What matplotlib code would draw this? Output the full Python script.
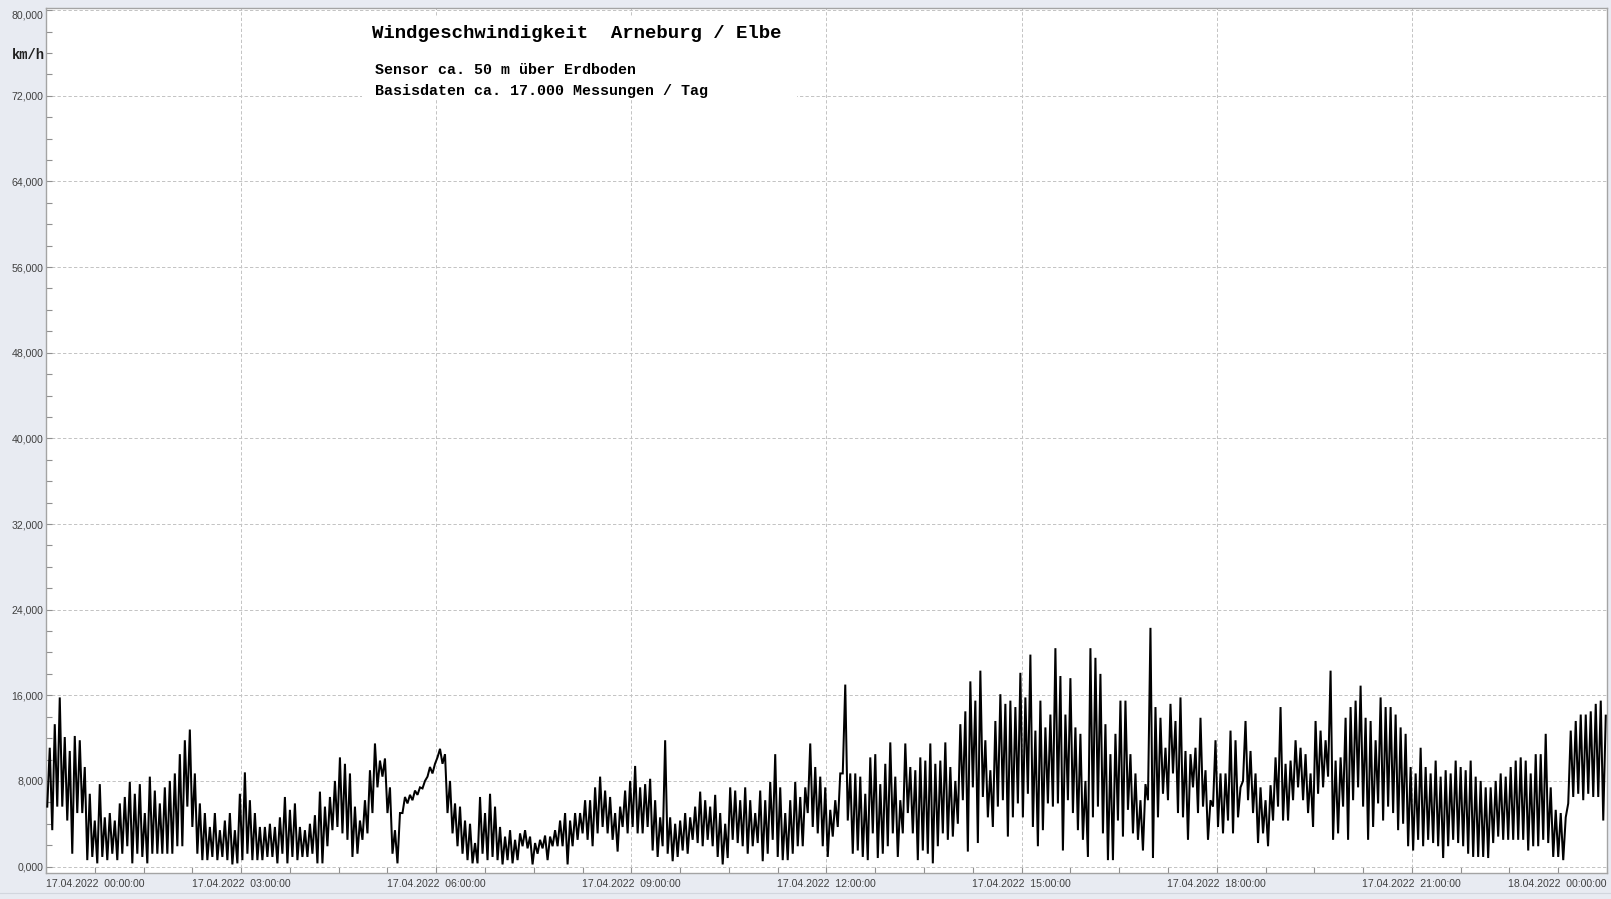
"""Windgeschwindigkeit Arneburg / Elbe, 17.04.2022 (Nachbau als Matplotlib-Grafik)."""

import matplotlib

matplotlib.use("Agg")

import matplotlib.pyplot as plt  # noqa: E402
import numpy as np  # noqa: E402
from matplotlib.lines import Line2D  # noqa: E402
from matplotlib.patches import Rectangle  # noqa: E402
from matplotlib.ticker import MultipleLocator  # noqa: E402

BG = "#e8ebf2"
GRID = "#c4c4c4"
SPINE = "#a4a4a4"
LABEL = "#404040"
MONO = "Liberation Mono"
SANS = "Liberation Sans"

# Hüllkurve (Minimum / Maximum) je ca. 4,6-Minuten-Fenster, km/h
hi_00_03 = [11.1, 13.3, 15.8, 12.1, 10.8, 12.2, 11.8, 9.3, 6.8, 4.3,
            7.7, 4.6, 5.0, 4.3, 5.9, 6.5, 7.9, 6.8, 7.7, 5.0,
            8.4, 7.1, 5.9, 7.4, 8.0, 8.7, 10.5, 11.8, 12.8, 8.7,
            5.9, 5.0, 3.7, 5.0, 3.4, 4.3, 5.0, 3.4, 6.8, 8.8]
lo_00_03 = [5.6, 3.4, 5.6, 5.6, 4.3, 1.2, 5.0, 5.0, 0.6, 0.9,
            0.3, 0.9, 0.6, 1.2, 0.6, 1.2, 1.9, 0.3, 1.2, 0.9,
            0.3, 1.2, 1.2, 1.2, 1.2, 1.2, 1.9, 1.9, 5.6, 3.7,
            1.2, 0.6, 0.6, 0.9, 0.6, 0.9, 0.6, 0.2, 0.3, 0.6]

hi_03_06 = [6.2, 5.0, 3.7, 3.7, 4.0, 3.7, 4.6, 6.5, 5.3, 5.9,
            3.7, 3.4, 4.0, 4.8, 7.0, 5.6, 6.5, 8.0, 10.2, 9.6,
            8.7, 5.6, 4.3, 6.2, 9.0, 11.5, 9.9, 10.1, 7.4, 3.4,
            5.0, 6.5, 6.7, 7.1, 7.4, 8.0, 9.3, 9.6, 11.0]
lo_03_06 = [1.2, 0.6, 0.6, 0.6, 0.9, 0.9, 0.3, 1.2, 0.3, 0.9,
            0.6, 0.9, 0.9, 1.2, 0.3, 0.3, 1.9, 3.4, 3.7, 3.1,
            2.5, 0.9, 1.2, 2.5, 3.1, 5.0, 7.4, 8.4, 5.0, 1.2,
            0.3, 5.0, 5.9, 6.2, 6.7, 7.3, 8.4, 8.7, 10.2]

hi_06_12 = [10.5, 8.0, 5.9, 5.6, 4.3, 4.0, 2.2, 6.5, 5.0, 6.8,
            5.6, 3.7, 2.8, 3.4, 2.5, 3.1, 3.4, 2.8, 2.2, 2.5,
            2.9, 2.8, 3.4, 4.3, 5.0, 4.3, 5.0, 5.0, 6.2, 6.2,
            7.4, 8.4, 7.1, 6.5, 5.0, 5.6, 7.1, 8.0, 9.4, 7.4,
            7.7, 8.2, 6.2, 4.6, 11.8, 4.6, 4.0, 4.3, 5.0, 4.6,
            5.6, 7.0, 6.2, 5.6, 6.7, 5.0, 4.0, 7.4, 7.1, 6.2,
            7.4, 6.2, 5.0, 7.1, 6.2, 7.9, 10.5, 7.4, 5.0, 6.2,
            7.9, 6.5, 7.4, 11.5, 9.3, 8.4, 7.4, 5.3]
lo_06_12 = [9.6, 5.0, 3.1, 1.9, 1.2, 0.6, 0.3, 0.3, 1.2, 0.6,
            0.9, 0.6, 0.2, 0.6, 0.3, 0.6, 1.9, 1.7, 0.2, 1.2,
            1.7, 0.6, 1.9, 1.9, 1.9, 0.2, 1.9, 2.5, 3.1, 2.5,
            1.9, 3.1, 3.7, 3.1, 2.5, 1.4, 3.7, 3.1, 3.7, 3.1,
            3.1, 3.7, 1.5, 0.9, 1.9, 1.2, 0.5, 0.9, 1.5, 1.2,
            2.5, 2.2, 1.9, 2.5, 1.9, 0.9, 0.2, 0.8, 2.5, 2.2,
            1.9, 1.2, 1.9, 2.2, 0.5, 1.2, 2.5, 0.9, 0.6, 0.6,
            1.2, 1.9, 1.9, 5.0, 3.7, 3.1, 1.9, 0.9]

hi_12_18 = [6.2, 8.7, 17.0, 8.7, 8.7, 8.4, 6.8, 10.2, 10.5, 7.7,
            9.6, 11.6, 8.4, 6.2, 11.5, 9.3, 9.0, 10.2, 9.9, 11.5,
            9.6, 9.9, 11.6, 9.3, 8.0, 13.3, 14.5, 17.3, 15.5, 18.3,
            11.8, 9.0, 13.6, 16.1, 15.2, 15.5, 14.9, 18.1, 15.8, 19.8,
            12.7, 15.5, 13.0, 14.2, 20.4, 17.8, 14.2, 17.6, 13.0, 12.4,
            8.0, 20.4, 19.5, 18.0, 13.3, 10.5, 12.4, 15.5, 15.5, 10.5,
            8.7, 6.2, 7.7, 22.3, 14.9, 13.9, 11.1, 15.2, 13.6, 15.8,
            10.8, 10.5, 11.1, 13.9, 9.0, 6.2, 11.8, 8.7]
lo_12_18 = [2.8, 3.7, 8.7, 4.3, 1.2, 1.5, 0.9, 0.6, 3.1, 0.8,
            1.2, 1.9, 3.1, 0.9, 3.1, 5.0, 3.1, 0.6, 1.5, 1.2,
            0.3, 1.9, 3.1, 2.5, 2.8, 4.0, 6.2, 1.4, 7.4, 2.2,
            6.5, 4.6, 3.7, 5.6, 6.2, 2.8, 4.6, 5.9, 4.6, 6.8,
            3.7, 1.9, 3.4, 5.9, 5.6, 5.9, 1.5, 6.2, 5.0, 3.4,
            2.5, 0.9, 4.6, 5.6, 3.1, 0.6, 0.6, 4.3, 2.8, 5.3,
            3.1, 2.5, 1.5, 6.2, 0.8, 4.6, 6.8, 6.2, 8.7, 5.0,
            4.6, 2.5, 7.4, 5.0, 5.6, 2.5, 5.6, 3.7]

hi_18_24 = [8.7, 12.7, 11.8, 7.4, 13.6, 10.8, 8.7, 7.4, 6.2, 7.6,
            10.2, 14.9, 9.6, 9.9, 11.8, 11.1, 10.5, 8.7, 13.6, 12.7,
            11.8, 18.3, 9.9, 10.2, 13.9, 14.9, 15.5, 16.9, 13.9, 13.6,
            11.8, 15.8, 14.9, 14.9, 14.2, 13.0, 12.4, 9.3, 8.7, 11.1,
            9.3, 8.7, 9.9, 8.4, 9.0, 8.7, 9.9, 9.3, 9.0, 9.9,
            8.4, 8.0, 7.4, 7.4, 8.0, 8.7, 8.4, 9.3, 9.9, 10.2,
            9.9, 8.7, 10.5, 10.5, 12.4, 7.4, 5.3, 5.0, 4.6, 12.7,
            13.6, 14.2, 14.2, 14.5, 15.2, 15.5, 14.1]
lo_18_24 = [3.1, 4.3, 3.1, 4.6, 8.0, 6.2, 5.0, 2.2, 3.1, 1.9,
            4.3, 5.6, 4.3, 4.3, 6.2, 7.4, 6.2, 5.0, 3.7, 6.8,
            7.4, 8.4, 2.5, 3.1, 5.6, 2.5, 6.2, 7.4, 5.6, 2.5,
            3.7, 5.9, 4.3, 5.6, 5.0, 3.4, 4.0, 1.9, 1.5, 2.5,
            1.9, 2.5, 2.2, 1.9, 0.8, 1.9, 2.5, 2.2, 1.9, 1.2,
            0.9, 0.9, 0.9, 0.8, 2.2, 2.8, 2.5, 2.5, 2.5, 2.5,
            2.5, 1.5, 1.9, 1.9, 2.5, 2.2, 0.9, 0.9, 0.6, 5.9,
            6.5, 6.8, 6.2, 6.8, 6.5, 6.5, 4.3]

x_ticks = [0, 3, 6, 9, 12, 15, 18, 21, 24]
x_labels = ["17.04.2022  00:00:00", "17.04.2022  03:00:00", "17.04.2022  06:00:00",
            "17.04.2022  09:00:00", "17.04.2022  12:00:00", "17.04.2022  15:00:00",
            "17.04.2022  18:00:00", "17.04.2022  21:00:00", "18.04.2022  00:00:00"]
y_ticks = list(range(0, 81, 8))

title = "Windgeschwindigkeit  Arneburg / Elbe"
sub1 = "Sensor ca. 50 m über Erdboden"
sub2 = "Basisdaten ca. 17.000 Messungen / Tag"

hi = np.concatenate([hi_00_03, hi_03_06, hi_06_12, hi_12_18, hi_18_24])
lo = np.concatenate([lo_00_03, lo_03_06, lo_06_12, lo_12_18, lo_18_24])
speed = np.column_stack([lo, hi]).ravel()
hours = (np.arange(speed.size) + 0.5) * 24.0 / speed.size

W, H = 1611, 899
fig = plt.figure(figsize=(W / 100, H / 100), dpi=100, facecolor=BG)
ax = fig.add_axes([46 / W, 1 - 873 / H, (1607 - 46) / W, (873 - 8) / H])
ax.set_facecolor("white")

ax.plot(hours, speed, color="black", linewidth=1.45, solid_joinstyle="miter", zorder=3)

ax.set_xlim(0, 24)
ax.set_ylim(-0.6, 80.2)

ax.set_xticks(x_ticks, x_labels)
ax.set_yticks(y_ticks, [f"{v:.3f}".replace(".", ",") for v in y_ticks])
ax.xaxis.set_minor_locator(MultipleLocator(0.75))
ax.yaxis.set_minor_locator(MultipleLocator(2))
ax.tick_params(which="both", direction="in", color="#909090", width=0.8,
               labelcolor=LABEL, labelsize=7.6, length=4)
ax.tick_params(axis="x", pad=4)
ax.tick_params(axis="y", pad=2)
for t in ax.get_xticklabels() + ax.get_yticklabels():
    t.set_fontfamily(SANS)
xl = ax.get_xticklabels()
xl[0].set_horizontalalignment("left")
xl[-1].set_horizontalalignment("right")
ax.get_yticklabels()[-1].set_verticalalignment("top")

ax.grid(True, which="major", color=GRID, linewidth=0.72, linestyle=(0, (3.3, 2.2)))
ax.set_axisbelow(True)
for s in ax.spines.values():
    s.set_color(SPINE)
    s.set_linewidth(1.0)

# weißes Feld hinter dem Titel
fig.add_artist(Rectangle((362 / W, 1 - 99 / H), (797 - 362) / W, (99 - 16) / H,
                         transform=fig.transFigure, facecolor="white",
                         edgecolor="none", zorder=5))
fig.text(372 / W, 1 - 33 / H, title, family=MONO, weight="bold", fontsize=13.7,
         va="center", ha="left", zorder=6)
fig.text(375 / W, 1 - 70 / H, sub1, family=MONO, weight="bold", fontsize=10.8,
         va="center", ha="left", zorder=6)
fig.text(375 / W, 1 - 91 / H, sub2, family=MONO, weight="bold", fontsize=10.8,
         va="center", ha="left", zorder=6)
fig.text(12 / W, 1 - 55 / H, "km/h", family=MONO, weight="bold", fontsize=9.9,
         va="center", ha="left", color="#202020")

fig.add_artist(Line2D([0, 1], [1 - 893 / H] * 2, transform=fig.transFigure,
                      color="#d2d6de", linewidth=0.8))

fig.savefig("out.png", dpi=100, facecolor=BG)
plt.close(fig)
